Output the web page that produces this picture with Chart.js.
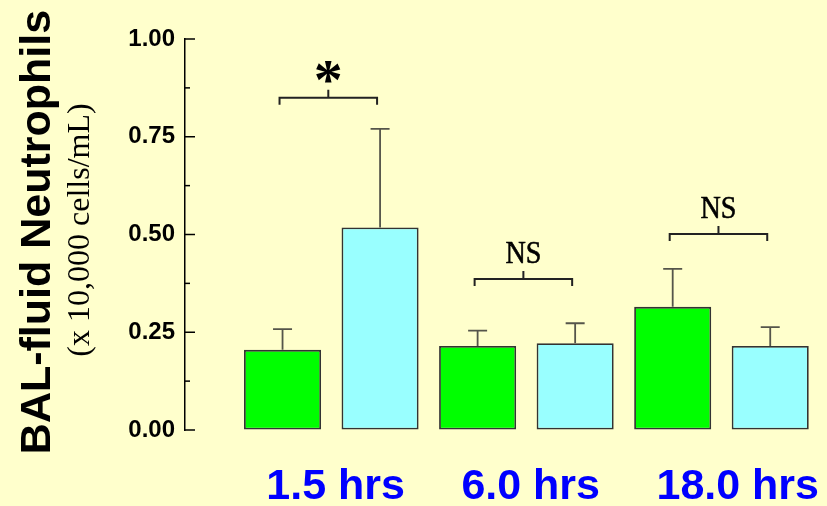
<!DOCTYPE html>
<html><head><meta charset="utf-8">
<script src="https://cdn.jsdelivr.net/npm/chart.js@4.4.1/dist/chart.umd.min.js"></script>
<style>html,body{margin:0;padding:0;background:#FFFFCC;}canvas{display:block;}</style>
</head><body>
<canvas id="c" width="827" height="506"></canvas>
<script>
const groups = ['1.5 hrs', '6.0 hrs', '18.0 hrs'];
const controlMeans = [0.205, 0.215, 0.315];
const controlErrors = [0.053, 0.039, 0.097];
const treatedMeans = [0.518, 0.222, 0.215];
const treatedErrors = [0.252, 0.051, 0.048];
const bracketLevels = [0.85, 0.386, 0.501];
const bracketLabels = ['*', 'NS', 'NS'];
const yTitle = 'BAL-fluid Neutrophils';
const ySubtitle = '(x 10,000 cells/mL)';

const SANS = '"Liberation Sans", Arial, sans-serif';
const SERIF = '"Liberation Serif", "Times New Roman", serif';

const bgPlugin = {
  id: 'bg',
  beforeDraw(chart) {
    const c = chart.ctx;
    c.save(); c.fillStyle = '#FFFFCC'; c.fillRect(0, 0, chart.width, chart.height); c.restore();
  }
};

const yTickPlugin = {
  id: 'yTicks',
  afterDraw(chart) {
    const s = chart.scales.y, c = chart.ctx;
    c.save(); c.strokeStyle = '#000'; c.lineWidth = 1.5;
    s.ticks.forEach(t => {
      const y = s.getPixelForValue(t.value);
      const len = t.label ? 10 : 5;
      c.beginPath(); c.moveTo(s.right, y); c.lineTo(s.right + len, y); c.stroke();
    });
    c.restore();
  }
};

const errorPlugin = {
  id: 'errors',
  afterDatasetsDraw(chart) {
    const y = chart.scales.y, c = chart.ctx;
    const sets = [[controlMeans, controlErrors], [treatedMeans, treatedErrors]];
    c.save(); c.strokeStyle = '#55554a'; c.lineWidth = 1.8;
    sets.forEach(([m, e], d) => {
      chart.getDatasetMeta(d).data.forEach((bar, i) => {
        const top = y.getPixelForValue(m[i] + e[i]);
        c.beginPath();
        c.moveTo(bar.x, bar.y); c.lineTo(bar.x, top);
        c.moveTo(bar.x - 9.5, top); c.lineTo(bar.x + 9.5, top);
        c.stroke();
      });
    });
    c.restore();
  }
};

const bracketPlugin = {
  id: 'brackets',
  afterDraw(chart) {
    const y = chart.scales.y, c = chart.ctx;
    const m0 = chart.getDatasetMeta(0).data, m1 = chart.getDatasetMeta(1).data;
    c.save(); c.strokeStyle = '#222'; c.lineWidth = 2; c.fillStyle = '#000';
    bracketLevels.forEach((lv, i) => {
      const l = m0[i].x - 3, r = m1[i].x - 3, mid = (l + r) / 2;
      const yb = y.getPixelForValue(lv);
      c.beginPath();
      c.moveTo(l, yb + 7); c.lineTo(l, yb); c.lineTo(r, yb); c.lineTo(r, yb + 7);
      c.moveTo(mid, yb); c.lineTo(mid, yb - 8);
      c.stroke();
      const lab = bracketLabels[i];
      const bottom = yb - 8 - 7;
      c.textAlign = 'center'; c.textBaseline = 'alphabetic';
      if (lab === '*') {
        c.font = 'bold 100px ' + SERIF;
        let mm = c.measureText(lab);
        const h = mm.actualBoundingBoxAscent + mm.actualBoundingBoxDescent;
        const fs = 100 * 22 / h;
        c.font = 'bold ' + fs + 'px ' + SERIF;
        mm = c.measureText(lab);
        c.fillText(lab, mid, bottom - mm.actualBoundingBoxDescent);
      } else {
        c.font = '32px ' + SERIF;
        const mm = c.measureText(lab);
        c.save();
        c.translate(mid, bottom - mm.actualBoundingBoxDescent - 1);
        c.scale(0.88, 1);
        c.lineWidth = 0.6; c.strokeStyle = '#000';
        c.fillText(lab, 0, 0);
        c.strokeText(lab, 0, 0);
        c.restore();
      }
    });
    c.restore();
  }
};

const titlePlugin = {
  id: 'titles',
  afterDraw(chart) {
    const c = chart.ctx;
    c.save();
    c.fillStyle = '#000'; c.textAlign = 'center'; c.textBaseline = 'alphabetic';
    c.translate(50, 232); c.rotate(-Math.PI / 2);
    c.font = 'bold 43px ' + SANS;
    c.fillText(yTitle, 0, 0);
    c.restore();
    c.save();
    c.fillStyle = '#000'; c.textAlign = 'center'; c.textBaseline = 'alphabetic';
    c.translate(89, 230); c.rotate(-Math.PI / 2);
    c.font = '32px ' + SERIF;
    c.fillText(ySubtitle, 0, 0);
    c.restore();
  }
};

new Chart(document.getElementById('c'), {
  type: 'bar',
  data: {
    datasets: [
      { label: 'Control', data: controlMeans.map((v, i) => ({ x: 2 * i + 1, y: v })),
        backgroundColor: '#00FF00', borderColor: '#333', borderWidth: 1.8, borderSkipped: false },
      { label: 'Treated', data: treatedMeans.map((v, i) => ({ x: 2 * i + 2, y: v })),
        backgroundColor: '#99FFFF', borderColor: '#333', borderWidth: 1.8, borderSkipped: false }
    ]
  },
  options: {
    responsive: false, animation: false, devicePixelRatio: 1,
    layout: { padding: { top: 39, right: 8, left: 0, bottom: 0 } },
    datasets: { bar: { grouped: false, categoryPercentage: 1, barPercentage: 0.79 } },
    plugins: { legend: { display: false }, tooltip: { enabled: false } },
    scales: {
      x: {
        type: 'linear', min: 0, max: 6.5, offset: false,
        grid: { display: false, offset: false }, border: { display: false },
        afterBuildTicks: s => { s.ticks = groups.map((g, i) => ({ value: 2 * i + 1.5 })); },
        afterFit: s => { s.paddingLeft = 0; s.paddingRight = 0; s.height = 76; },
        ticks: {
          callback: (v, i) => groups[i], color: '#0000FF',
          font: { family: SANS, size: 43, weight: 'bold' },
          align: 'start', labelOffset: -65, padding: 23,
          autoSkip: false, maxRotation: 0, minRotation: 0
        }
      },
      y: {
        min: 0, max: 1,
        afterFit: s => { s.width = 185; },
        grid: { drawOnChartArea: false, drawTicks: false },
        border: { color: '#000', width: 1.5 },
        ticks: {
          stepSize: 0.125, autoSkip: false, padding: 10, color: '#000',
          font: { family: SANS, size: 24, weight: 'bold' },
          callback: v => (Math.abs(v * 4 - Math.round(v * 4)) < 1e-9 ? v.toFixed(2) : '')
        }
      }
    }
  },
  plugins: [bgPlugin, yTickPlugin, errorPlugin, bracketPlugin, titlePlugin]
});
</script>
</body></html>
